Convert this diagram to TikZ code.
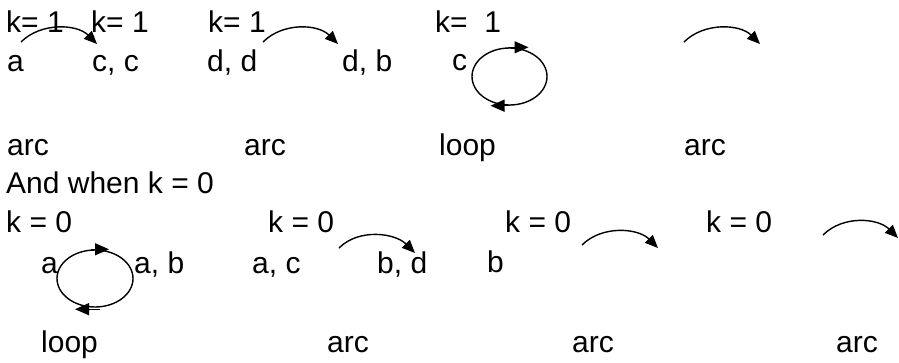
\documentclass[tikz,border=0pt]{standalone}
\usepackage{fontspec}
\setmainfont{Liberation Sans}
\usetikzlibrary{arrows.meta,shapes.geometric}
\begin{document}
\begin{tikzpicture}[x=1pt,y=-1pt,
  lbl/.style={anchor=base west, inner sep=0pt, font=\fontsize{30}{36}\selectfont},
  arcline/.style={line width=1.4pt, -{Triangle[length=13pt,width=11pt]}},
  looparrow/.style={line width=1.4pt, -{Triangle[length=14pt,width=12pt]}},
  loopshape/.style={draw, ellipse, line width=1.4pt, inner sep=0pt},
]
\useasboundingbox (0,0) rectangle (899,362);
% labels, first part
\node[lbl] (k1) at (6,32) {k= 1};
\node[lbl] (k2) at (91,32) {k= 1};
\node[lbl] (k3) at (208,32) {k= 1};
\node[lbl] (k4) at (435,32) {k=\ \ 1};
\node[lbl] (a1) at (7,71) {a};
\node[lbl] (cc) at (92,71) {c, c};
\node[lbl] (dd) at (207,71) {d, d};
\node[lbl] (db) at (342,71) {d, b};
\node[lbl] (c1) at (452,70) {c};
\node[lbl] (arcA) at (7,155) {arc};
\node[lbl] (arcB) at (244,155) {arc};
\node[lbl] (loopA) at (439,155) {loop};
\node[lbl] (arcC) at (684,155) {arc};
% second part
\node[lbl] (when) at (6,193) {And when k = 0};
\node[lbl] (z1) at (6,232) {k = 0};
\node[lbl] (z2) at (268,232) {k = 0};
\node[lbl] (z3) at (505,232) {k = 0};
\node[lbl] (z4) at (706,232) {k = 0};
\node[lbl] (a2) at (41,273) {a};
\node[lbl] (ab) at (134,273) {a, b};
\node[lbl] (ac) at (252,273) {a, c};
\node[lbl] (bd) at (377,273) {b, d};
\node[lbl] (b1) at (487,272) {b};
\node[lbl] (loopB) at (41,352) {loop};
\node[lbl] (arcD) at (327,352) {arc};
\node[lbl] (arcE) at (572,352) {arc};
\node[lbl] (arcF) at (836,352) {arc};
% arcs
\coordinate (s1) at (21,42);  \coordinate (e1) at (97,44);
\coordinate (s2) at (263,42); \coordinate (e2) at (338,44);
\coordinate (s3) at (684,42); \coordinate (e3) at (760,44);
\coordinate (s4) at (339,248); \coordinate (e4) at (415,253);
\coordinate (s5) at (582,245); \coordinate (e5) at (658,248);
\coordinate (s6) at (823,235); \coordinate (e6) at (898,238);
\foreach \i in {1,...,6}{
  \draw[arcline] (s\i) .. controls +(20,-20) and +(-20,-20) .. (e\i);
}
% loops
\node[loopshape, minimum width=75pt, minimum height=57pt] (L1) at (509.5,76.5) {};
\draw[looparrow] ([xshift=-2pt]L1.north) -- ([xshift=19pt]L1.north);
\draw[looparrow] (L1.south) -- ([xshift=-19pt]L1.south);
\node[loopshape, minimum width=76pt, minimum height=57pt] (L2) at (95,278.5) {};
\draw[looparrow] ([xshift=-4pt]L2.north) -- ([xshift=14pt]L2.north);
\draw[looparrow] ([xshift=5pt,yshift=-1.5pt]L2.south) -- ([xshift=-20pt,yshift=-1.5pt]L2.south);
\end{tikzpicture}
\end{document}
